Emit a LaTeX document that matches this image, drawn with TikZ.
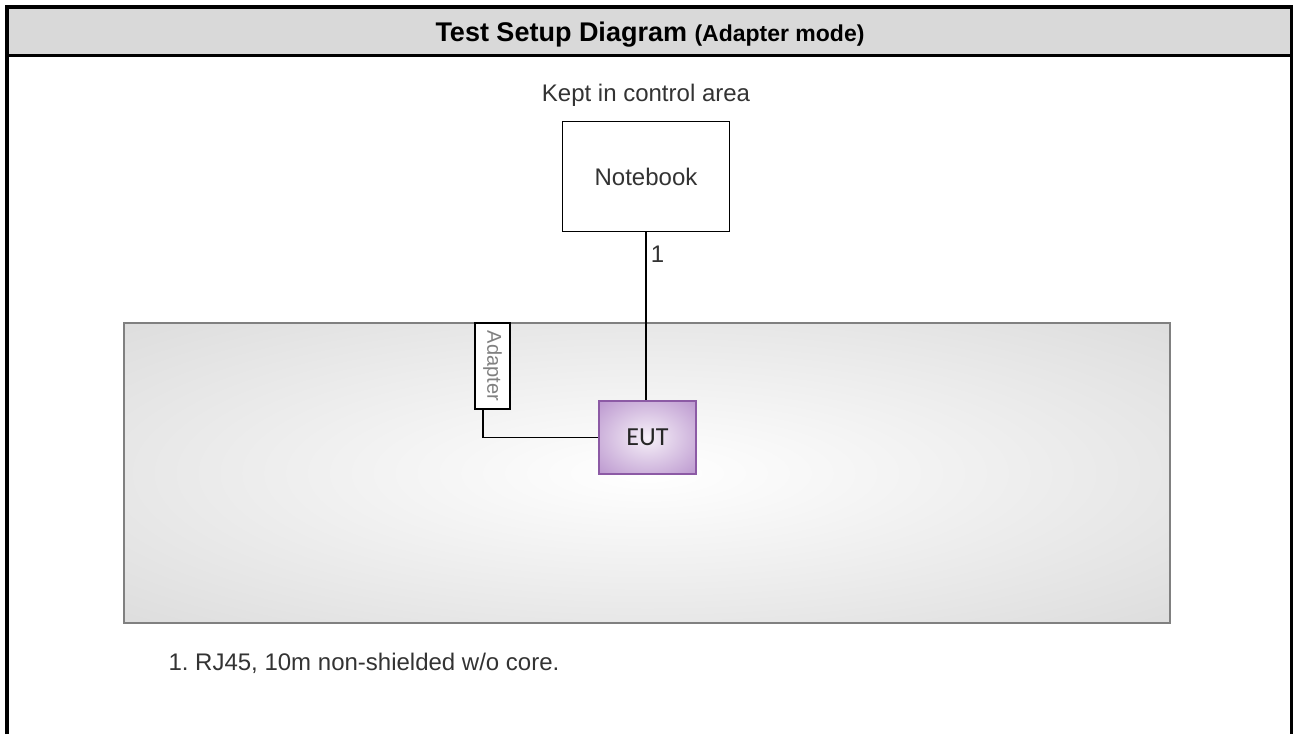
\documentclass[tikz,border=0pt]{standalone}
\usepackage{fontspec}
\setmainfont{Liberation Sans}
\newfontfamily\eutfont{Carlito}
\usepackage{xcolor}
\usepackage{tikz}

\definecolor{headgray}{RGB}{217,217,217}
\definecolor{areagray}{RGB}{200,200,200}
\definecolor{areamid}{RGB}{212,212,212}
\definecolor{areaedge}{RGB}{128,128,128}
\definecolor{eutpurple}{RGB}{172,128,196}
\definecolor{eutlight}{RGB}{246,240,248}
\definecolor{eutedge}{RGB}{140,90,165}
\definecolor{txtgray}{RGB}{51,51,51}

\pgfdeclareradialshading{areashade}{\pgfpoint{0bp}{0bp}}{color(0bp)=(white);
  color(45bp)=(areamid); color(71bp)=(areagray)}
\pgfdeclareradialshading{eutshade}{\pgfpoint{0bp}{0bp}}{color(0bp)=(eutlight);
  color(45bp)=(eutpurple); color(71bp)=(eutpurple)}

\frenchspacing
\begin{document}
\begin{tikzpicture}[x=1pt,y=-1pt,
  box/.style={draw,line width=1.5pt,fill=white,inner sep=0pt,text=txtgray},
  cable/.style={line width=1.8pt},
  txt/.style={text=txtgray,font=\fontsize{24}{28}\selectfont}]
\useasboundingbox (0,0) rectangle (1293,734);
% frame and header
\fill[headgray] (7,7) rectangle (1292,55.5);
\draw[line width=4pt] (7,734)--(7,7)--(1292,7)--(1292,734);
\draw[line width=3pt] (7,55.5)--(1292,55.5);
\node[anchor=base,font=\bfseries\fontsize{27}{30}\selectfont] (title) at (650,41)
  {Test Setup Diagram {\fontsize{23}{26}\selectfont(Adapter mode)}};
% test area
\shade[shading=areashade,draw=areaedge,line width=2pt] (124,323) rectangle (1170,623);
% devices
\node[txt,anchor=base] (area) at (646,101.5) {Kept in control area};
\node[box,txt,minimum width=167pt,minimum height=110pt] (notebook) at (646,176.5) {Notebook};
\node[box,minimum width=35pt,minimum height=86pt,text=gray,
  font=\fontsize{20}{24}\selectfont] (adapter) at (492.5,366) {\rotatebox{-90}{Adapter}};
\node[draw=eutedge,line width=1.5pt,shading=eutshade,
  minimum width=97pt,minimum height=73pt,font=\eutfont\fontsize{26}{30}\selectfont,
  text=black!85] (eut) at (647.5,437.5) {EUT};
% cables
\draw[cable] (notebook.south) -- (notebook.south |- eut.north)
  node[txt,pos=0.13,right,inner sep=4pt] (cable1) {1};
\draw[cable] ([xshift=-9.5pt]adapter.south) |- (eut.west);
% note
\node[txt,anchor=base west] (note) at (165,670) {1. RJ45, 10m non-shielded w/o core.};
\end{tikzpicture}
\end{document}
